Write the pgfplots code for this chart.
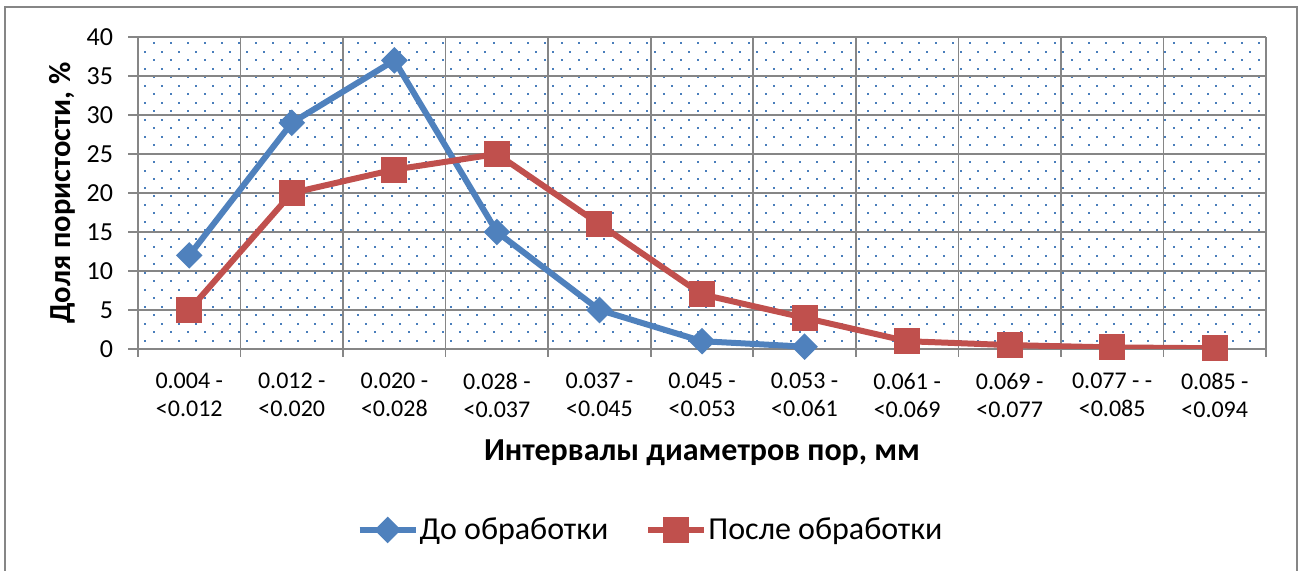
\documentclass[border=0pt]{standalone}
\usepackage{fontspec}
\setmainfont{Carlito}
\usepackage{pgfplots}
\pgfplotsset{compat=1.18}
\usetikzlibrary{patterns,patterns.meta}
\definecolor{sblue}{HTML}{4F81BD}
\definecolor{sred}{HTML}{C0504D}
\definecolor{gridgray}{HTML}{868686}
\definecolor{dotblue}{HTML}{4A7EBB}
\pgfdeclarepattern{
  name=mydots,
  type=uncolored,
  bottom left={\pgfpoint{0pt}{0pt}},
  top right={\pgfpoint{8.5pt}{8.5pt}},
  tile size={\pgfpoint{8.5pt}{8.5pt}},
  code={
    \pgfpathrectangle{\pgfpoint{0pt}{0pt}}{\pgfpoint{1pt}{1pt}}
    \pgfpathrectangle{\pgfpoint{4.25pt}{4.25pt}}{\pgfpoint{1pt}{1pt}}
    \pgfusepath{fill}
  }
}
\begin{document}
\begin{tikzpicture}
\useasboundingbox (0,0) rectangle (652pt,285.5pt);
\draw[gridgray, line width=0.8pt] (2.5pt,-2pt) rectangle (648.5pt,282pt);
\begin{axis}[
  at={(69pt,111pt)}, anchor=south west,
  scale only axis, width=564pt, height=156pt,
  xmin=-0.5, xmax=10.5, ymin=0, ymax=40,
  xtick={0,...,10},
  xticklabels={{0.004 -\\<0.012},{0.012 -\\<0.020},{0.020 -\\<0.028},{0.028 -\\<0.037},{0.037 -\\<0.045},{0.045 -\\<0.053},{0.053 -\\<0.061},{0.061 -\\<0.069},{0.069 -\\<0.077},{0.077 - -\\<0.085},{0.085 -\\<0.094}},
  minor xtick={-0.5,0.5,...,10.5},
  ytick={0,5,...,40},
  xminorgrids, ymajorgrids,
  tick align=outside,
  major tick length=5pt, minor tick length=4pt,
  major x tick style={draw=none},
  tick style={gridgray, line width=0.8pt},
  grid style={gridgray, line width=0.8pt},
  axis line style={gridgray, line width=0.8pt},
  axis x line*=bottom, axis y line*=left,
  axis background/.style={pattern={mydots}, pattern color=dotblue},
  /pgf/number format/assume math mode=true,
  xticklabel style={align=center, yshift=-3.5pt, font=\fontsize{12}{14}\selectfont},
  yticklabel style={xshift=-4pt, font=\fontsize{13}{15}\selectfont},
  every axis y label/.style={at={(axis description cs:-0.0674,0.5)}, rotate=90, anchor=center, font=\bfseries\fontsize{15.3}{17}\selectfont},
  every axis x label/.style={at={(axis description cs:0.5,-0.333)}, anchor=center, font=\bfseries\fontsize{16}{18}\selectfont},
  ylabel={Доля пористости, \%},
  xlabel={Интервалы диаметров пор, мм},
  legend style={at={(0.454,-0.58)}, anchor=center, draw=none, fill=none, legend columns=2,
    font=\fontsize{16}{18}\selectfont,
    nodes={inner xsep=0.5pt},
    /tikz/every even column/.append style={column sep=18pt}},
  legend image code/.code={\draw[mark repeat=2,mark phase=2] plot coordinates {(0pt,0pt) (14pt,0pt) (28pt,0pt)};},
]
\addplot[sblue, line width=3pt, mark=square*, mark size=3.2pt, mark options={rotate=45}]
  coordinates {(0,12) (1,29) (2,37) (3,15) (4,5) (5,1) (6,0.3)};
\addlegendentry{До обработки}
\addplot[sred, line width=3pt, mark=square*, mark size=5pt]
  coordinates {(0,5) (1,20) (2,23) (3,25) (4,16) (5,7) (6,4) (7,1) (8,0.5) (9,0.2) (10,0.1)};
\addlegendentry{После обработки}
\end{axis}
\end{tikzpicture}
\end{document}
